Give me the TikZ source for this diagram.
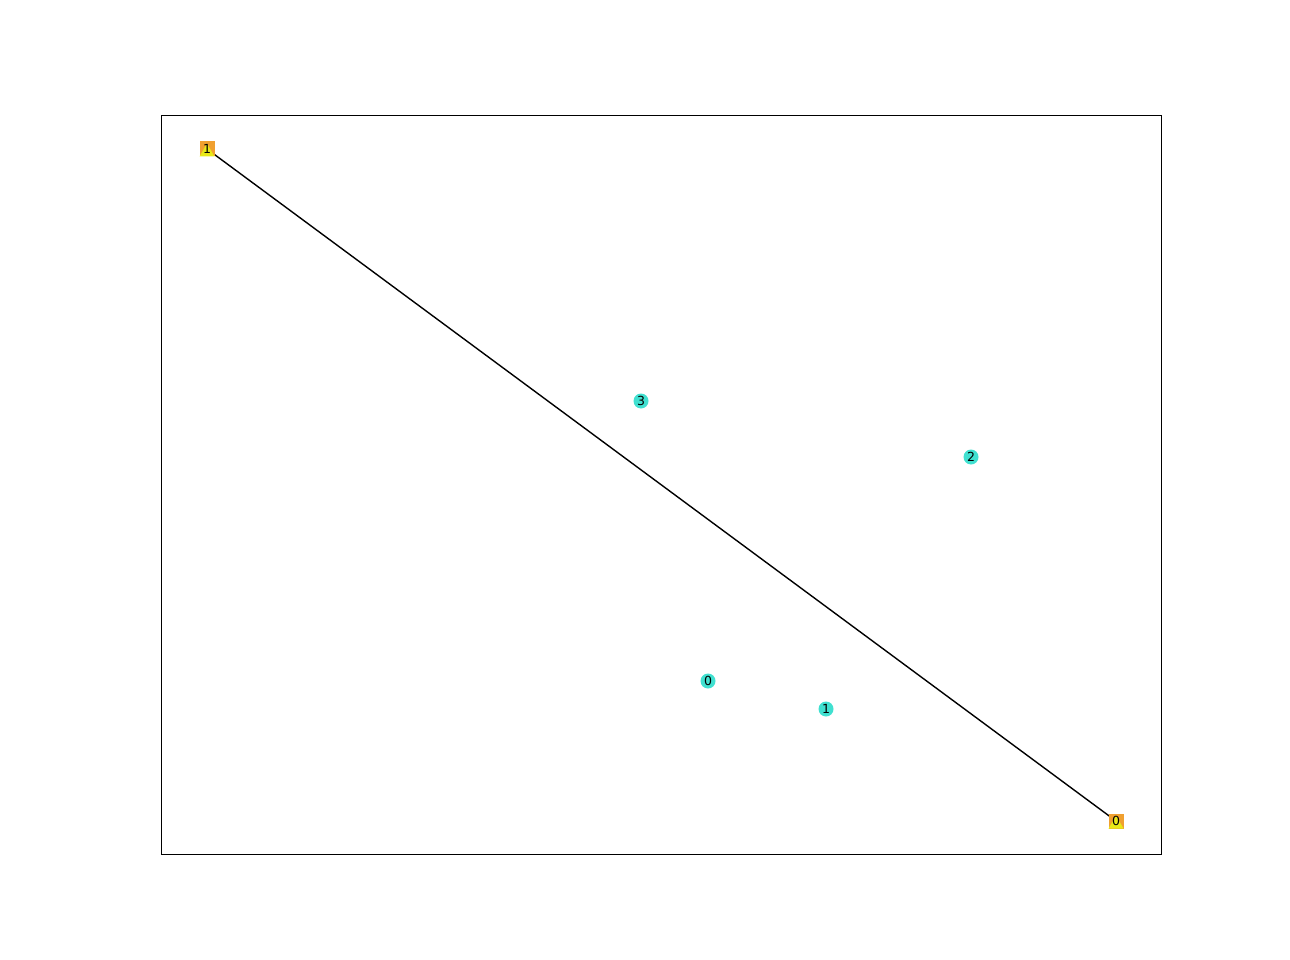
\documentclass[tikz,border=0pt]{standalone}
\usepackage{fontspec}
\setmainfont{DejaVu Sans}
\definecolor{sqorange}{HTML}{F0A030}
\definecolor{triyellow}{HTML}{E8E818}
\definecolor{circcyan}{HTML}{40E0D0}
\begin{document}
\begin{tikzpicture}[x=1pt,y=-1pt,
  sqnode/.style={rectangle,minimum size=15pt,inner sep=0pt,fill=sqorange,
    path picture={\fill[triyellow] ([yshift=-2pt]path picture bounding box.north) -- (path picture bounding box.south west) -- (path picture bounding box.south east) -- cycle;}},
  circnode/.style={circle,minimum size=15pt,inner sep=0pt,fill=circcyan},
  lbl/.style={font=\fontsize{12.5}{13}\selectfont,inner sep=0pt},
  edge/.style={line width=1.4pt,black}]
\useasboundingbox (0,0) rectangle (1290,960);
\draw[line width=0.9pt] (161,115) rectangle (1161,854);
\coordinate (s1) at (207,149);
\coordinate (s0) at (1116,821);
\draw[edge] (s1) -- (s0);
\node[sqnode] (q1) at (s1) {};
\node[lbl] at (q1) {1};
\node[sqnode] (q0) at (s0) {};
\node[lbl] at (q0) {0};
\node[circnode] (c3) at (641,401) {};
\node[lbl] at (c3) {3};
\node[circnode] (c2) at (971,457) {};
\node[lbl] at (c2) {2};
\node[circnode] (c0) at (708,681) {};
\node[lbl] at (c0) {0};
\node[circnode] (c1) at (826,709) {};
\node[lbl] at (c1) {1};
\end{tikzpicture}
\end{document}
